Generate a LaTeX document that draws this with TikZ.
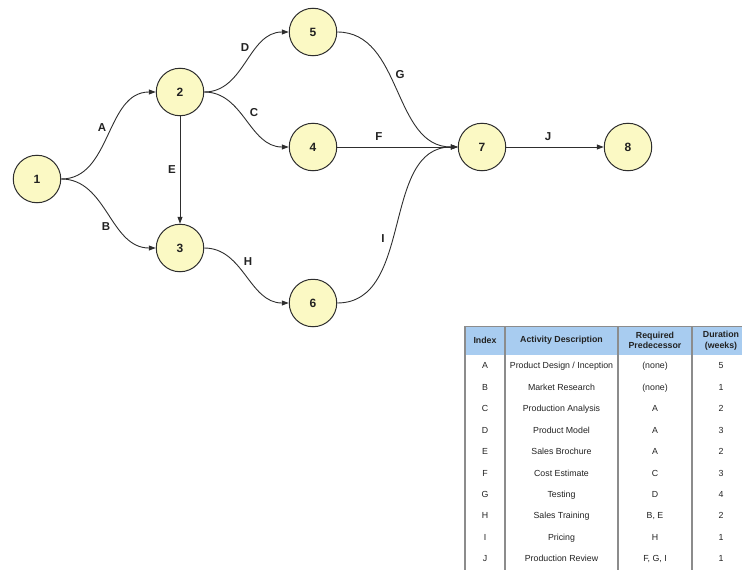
\documentclass[tikz,border=0pt]{standalone}
\usepackage{fontspec}
\setmainfont{Liberation Sans}
\usetikzlibrary{arrows.meta}
\definecolor{nodefill}{HTML}{FBF9C4}
\definecolor{edgecol}{HTML}{2E2E2E}
\definecolor{headfill}{HTML}{A8CCF0}
\definecolor{gridcol}{HTML}{8C8C8C}
\definecolor{txt}{HTML}{222222}

\begin{document}
\begin{tikzpicture}[x=1pt,y=-1pt,
  event/.style={circle, draw=edgecol, line width=1pt, fill=nodefill,
    minimum size=47.5pt, inner sep=0pt,
    font=\fontsize{12}{14}\selectfont\bfseries, text=txt},
  act/.style={draw=edgecol, line width=0.9pt, -{Triangle[length=7pt,width=5pt]}},
  lab/.style={font=\fontsize{11.5}{13}\selectfont\bfseries, text=txt, inner sep=0pt},
  cell/.style={font=\fontsize{8.8}{10.5}\selectfont, text=txt, inner sep=0pt,
    text height=6.4pt, text depth=1.9pt},
  headcell/.style={font=\fontsize{8.8}{10.5}\selectfont\bfseries, text=txt, inner sep=0pt, align=center},
  rule/.style={draw=gridcol, line width=1.1pt}
]
\useasboundingbox (0,0) rectangle (742,570);

% events of the activity network
\node[event] (n1) at (37,179) {1};
\node[event] (n2) at (180,92) {2};
\node[event] (n3) at (180,248) {3};
\node[event] (n5) at (313,32) {5};
\node[event] (n4) at (313,147) {4};
\node[event] (n6) at (313,303) {6};
\node[event] (n7) at (482,147) {7};
\node[event] (n8) at (628,147) {8};

% activities
\draw[act] (n1.east) to[out=0,in=180] node[lab, xshift=-6.5pt, yshift=7.5pt] {A} (n2.west);
\draw[act] (n1.east) to[out=0,in=180] node[lab, xshift=-2.5pt, yshift=-13.5pt] {B} (n3.west);
\draw[act] (n2.east) to[out=0,in=180] node[lab, xshift=-1.5pt, yshift=14pt] {D} (n5.west);
\draw[act] (n2.east) to[out=0,in=180] node[lab, xshift=7.5pt, yshift=7pt] {C} (n4.west);
\draw[act] (n2.south) -- node[lab, xshift=-8pt] {E} (n3.north);
\draw[act] (n3.east) to[out=0,in=180] node[lab, xshift=1.5pt, yshift=13.5pt] {H} (n6.west);
\draw[act] (n5.east) to[out=0,in=180] node[lab, xshift=2.5pt, yshift=14.5pt] {G} (n7.west);
\draw[act] (n4.east) -- node[lab, xshift=-18.5pt, yshift=10.5pt] {F} (n7.west);
\draw[act] (n6.east) to[out=0,in=180] node[lab, xshift=-14.5pt, yshift=-14pt] {I} (n7.west);
\draw[act] (n7.east) -- node[lab, xshift=-7pt, yshift=10.5pt] {J} (n8.west);

% activity table
\fill[headfill] (465,326) rectangle (750,355);
\draw[draw=gridcol, line width=0.6pt] (465,326) -- (750,326);
\foreach \x in {465,505,618,692} \draw[rule] (\x,326) -- (\x,572);

\node[headcell] (hidx)  at (485,340.5) {Index};
\node[headcell] (hdesc) at (561.5,340.5) {Activity Description};
\node[headcell] (hpred) at (655,340.5) {Required\\Predecessor};
\node[headcell] (hdur)  at (721,340.5) {Duration\\(weeks)};

\foreach \i/\a/\d/\p/\w in {
  0/A/Product Design \slash{} Inception/(none)/5,
  1/B/Market Research/(none)/1,
  2/C/Production Analysis/A/2,
  3/D/Product Model/A/3,
  4/E/Sales Brochure/A/2,
  5/F/Cost Estimate/C/3,
  6/G/Testing/D/4,
  7/H/Sales Training/{B, E}/2,
  8/I/Pricing/H/1,
  9/J/Production Review/{F, G, I}/1} {
  \pgfmathsetmacro{\yy}{366.5+21.45*\i}
  \node[cell] (r\i a) at (485,\yy) {\a};
  \node[cell] (r\i b) at (561.5,\yy) {\d};
  \node[cell] (r\i c) at (655,\yy) {\p};
  \node[cell] (r\i d) at (721,\yy) {\w};
}
\end{tikzpicture}
\end{document}
